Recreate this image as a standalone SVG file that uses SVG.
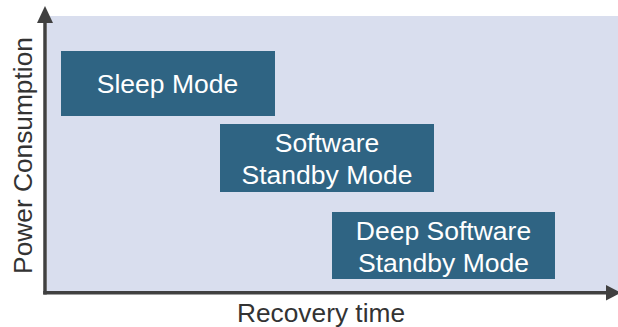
<svg xmlns="http://www.w3.org/2000/svg" width="618" height="327" viewBox="0 0 618 327">
<style>
.box{fill:#2f6483}
.bt{font-family:"Liberation Sans",Arial,sans-serif;font-size:26.5px;fill:#ffffff;text-anchor:middle}
.ax{font-family:"Liberation Sans",Arial,sans-serif;font-size:26.3px;fill:#333333;text-anchor:middle}
.axis{stroke:#404040;fill:none}
</style>
<rect x="0" y="0" width="618" height="327" fill="#ffffff"/>
<rect x="47" y="16" width="571" height="277" fill="#d9deee"/>
<g id="axes">
<line class="axis" x1="45" y1="22" x2="45" y2="294.5" stroke-width="3.5"/>
<line class="axis" x1="43.25" y1="292.75" x2="608" y2="292.75" stroke-width="3.5"/>
<polygon points="45,6 53,23 37,23" fill="#404040"/>
<polygon points="606,285 621,292.75 606,300.5" fill="#404040"/>
</g>
<g id="sleep">
<rect class="box" x="61" y="51" width="214" height="65"/>
<text class="bt" x="167.5" y="92.5">Sleep Mode</text>
</g>
<g id="software-standby">
<rect class="box" x="220" y="124" width="214" height="68"/>
<text class="bt" x="327" y="152">Software</text>
<text class="bt" x="327" y="184">Standby Mode</text>
</g>
<g id="deep-software-standby">
<rect class="box" x="332" y="212" width="223" height="67"/>
<text class="bt" x="443.5" y="240">Deep Software</text>
<text class="bt" x="443.5" y="272">Standby Mode</text>
</g>
<text class="ax" x="321" y="322">Recovery time</text>
<text class="ax" transform="translate(32 155.5) rotate(-90)" x="0" y="0">Power Consumption</text>
</svg>
